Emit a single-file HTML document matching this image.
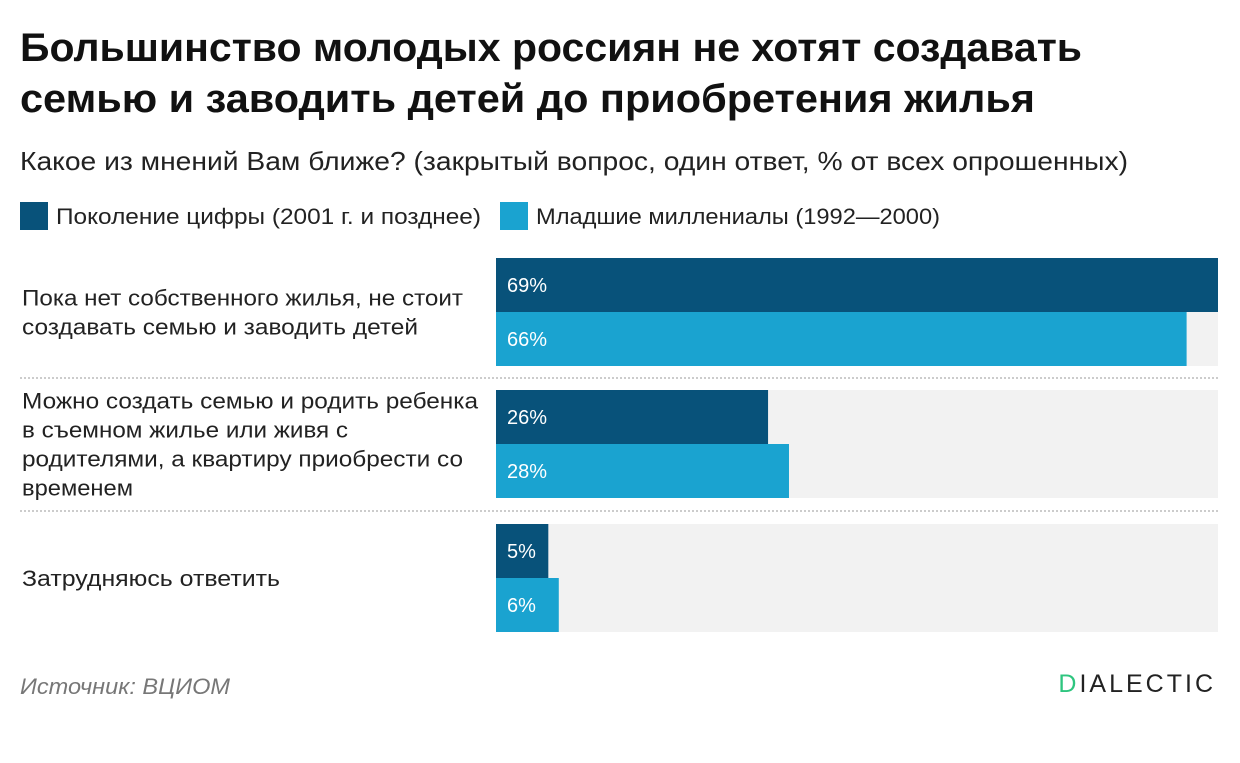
<!DOCTYPE html>
<html><head><meta charset="utf-8"><style>
body{margin:0;background:#fff;width:1240px;height:758px;overflow:hidden;font-family:"Liberation Sans",sans-serif;}
</style></head><body>
<svg id="c" width="1240" height="758" xmlns="http://www.w3.org/2000/svg">
<text x="20" y="61" font-size="40" font-weight="bold" fill="#111" textLength="1062" lengthAdjust="spacingAndGlyphs">Большинство молодых россиян не хотят создавать</text>
<text x="20" y="112" font-size="40" font-weight="bold" fill="#111" textLength="1015" lengthAdjust="spacingAndGlyphs">семью и заводить детей до приобретения жилья</text>
<text x="20" y="170" font-size="26" fill="#222" textLength="1108" lengthAdjust="spacingAndGlyphs">Какое из мнений Вам ближе? (закрытый вопрос, один ответ, % от всех опрошенных)</text>
<rect x="20" y="202" width="28" height="28" fill="#08527a"/>
<text x="56" y="224" font-size="22" fill="#222" textLength="425" lengthAdjust="spacingAndGlyphs">Поколение цифры (2001 г. и позднее)</text>
<rect x="500" y="202" width="28" height="28" fill="#1aa3d0"/>
<text x="536" y="224" font-size="22" fill="#222" textLength="404" lengthAdjust="spacingAndGlyphs">Младшие миллениалы (1992—2000)</text>
<g id="bars"></g>
<text x="20" y="694" font-size="22" font-style="italic" fill="#777" textLength="210" lengthAdjust="spacingAndGlyphs">Источник: ВЦИОМ</text>
<text x="1216" y="692" font-size="25" text-anchor="end" fill="#222" letter-spacing="3"><tspan fill="#2ec57f">D</tspan>IALECTIC</text>
</svg>
<script>
const categories=[["Пока нет собственного жилья, не стоит","создавать семью и заводить детей"],["Можно создать семью и родить ребенка","в съемном жилье или живя с","родителями, а квартиру приобрести со","временем"],["Затрудняюсь ответить"]];
const genZ=[69,26,5];
const millennials=[66,28,6];
const maxVal=69;
const labelLens=[[441,396],[456,326,441,111],[258]];
const x0=496,plotW=722,barH=54,groupTops=[258,390,524];
function xScale(v){return v/maxVal*plotW;}
const NS="http://www.w3.org/2000/svg";
const g=document.getElementById('bars');
function mk(tag,attrs){const e=document.createElementNS(NS,tag);for(const k in attrs)e.setAttribute(k,attrs[k]);g.appendChild(e);return e;}
categories.forEach((cat,i)=>{
  const top=groupTops[i];
  const bg=mk('rect',{x:x0,y:top,width:plotW,height:barH*2,fill:'#f2f2f2'});
  
  
  [[genZ,'#08527a','bar-gen-z'],[millennials,'#1aa3d0','bar-millennials']].forEach((s,j)=>{
    const v=s[0][i];const y=top+j*barH;
    const r=mk('rect',{x:x0,y:y,width:xScale(v),height:barH,fill:s[1]});
    
    
    const t=mk('text',{x:x0+11,y:y+34,'font-size':20,fill:'#fff'});
    t.textContent=v+'%';
    
    
  });
  const lh=29,n=cat.length,cy=top+barH;
  cat.forEach((line,k)=>{
    const t=mk('text',{x:22,y:cy+(k-(n-1)/2)*lh+8,'font-size':22,fill:'#222',textLength:labelLens[i][k],lengthAdjust:'spacingAndGlyphs'});
    t.textContent=line;
    
    
  });
  if(i<categories.length-1){
    const ly=(top+barH*2+groupTops[i+1])/2;
    const l=mk('line',{x1:20,x2:1218,y1:ly,y2:ly,stroke:'#bbb','stroke-width':1.5,'stroke-dasharray':'2,2'});
    
    
  }
});
</script>
</body></html>
